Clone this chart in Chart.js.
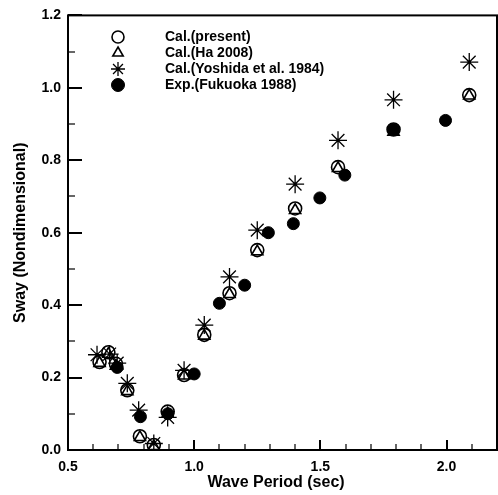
<!DOCTYPE html>
<html>
<head>
<meta charset="utf-8">
<script src="https://cdn.jsdelivr.net/npm/chart.js@4/dist/chart.umd.min.js"></script>
<style>
  html, body { margin: 0; padding: 0; background: #fff; }
  #wrap { width: 498px; height: 495px; }
</style>
</head>
<body>
<div id="wrap"><canvas id="swayChart" width="498" height="495"></canvas></div>
<script>
// wave period (sec) and nondimensional sway amplitude
const periodCal = [0.625, 0.66, 0.69, 0.735, 0.785, 0.84, 0.895, 0.96, 1.04, 1.14, 1.25, 1.40, 1.57, 1.79, 2.09];
const swayPresent = [0.243, 0.270, 0.238, 0.165, 0.038, 0.014, 0.106, 0.207, 0.318, 0.433, 0.552, 0.667, 0.781, 0.885, 0.980];
const swayHa = [0.240, 0.265, 0.232, 0.162, 0.035, 0.010, 0.100, 0.205, 0.315, 0.430, 0.548, 0.662, 0.778, 0.878, 0.978];

const periodYoshida = [0.615, 0.665, 0.695, 0.735, 0.78, 0.84, 0.895, 0.96, 1.04, 1.14, 1.25, 1.40, 1.57, 1.79, 2.09];
const swayYoshida = [0.263, 0.265, 0.240, 0.184, 0.110, 0.018, 0.090, 0.220, 0.345, 0.478, 0.607, 0.734, 0.855, 0.967, 1.071];

const periodExp = [0.695, 0.787, 0.896, 1.0, 1.10, 1.20, 1.294, 1.393, 1.498, 1.597, 1.79, 1.996];
const swayExp = [0.228, 0.092, 0.100, 0.210, 0.405, 0.455, 0.600, 0.625, 0.696, 0.759, 0.885, 0.910];

const xTicks = [0.5, 1.0, 1.5, 2.0];
const yTicks = [0.0, 0.2, 0.4, 0.6, 0.8, 1.0, 1.2];
const xTitle = 'Wave Period (sec)';

const toPoints = (xs, ys) => xs.map((x, i) => ({ x: x, y: ys[i] }));

const FONT = 'Liberation Sans, Arial, sans-serif';

// inward tick marks, frame, x title and the legend inside the plot
const framePlugin = {
  id: 'frame',
  afterDatasetsDraw(chart) {
    const { ctx, chartArea: a, scales } = chart;
    const xs = scales.x, ys = scales.y;
    ctx.save();
    ctx.strokeStyle = '#000';
    ctx.lineWidth = 2;
    ctx.strokeRect(a.left, a.top, a.right - a.left, a.bottom - a.top);

    for (let v = 0.5; v <= 2.2001; v += 0.1) {
      const px = Math.round(xs.getPixelForValue(v));
      const major = Math.abs(v * 2 - Math.round(v * 2)) < 1e-6;
      ctx.lineWidth = major ? 2 : 1.2;
      ctx.beginPath();
      ctx.moveTo(px, a.bottom);
      ctx.lineTo(px, a.bottom - (major ? 10 : 6));
      ctx.stroke();
    }
    for (let v = 0; v <= 1.2001; v += 0.1) {
      const py = Math.round(ys.getPixelForValue(v));
      const major = Math.abs(v * 5 - Math.round(v * 5)) < 1e-6;
      ctx.lineWidth = major ? 2 : 1.2;
      ctx.beginPath();
      ctx.moveTo(a.left, py);
      ctx.lineTo(a.left + (major ? 14 : 7), py);
      ctx.stroke();
    }

    // x axis title, sits a little left of the plot centre
    ctx.fillStyle = '#000';
    ctx.font = 'bold 16px ' + FONT;
    ctx.textAlign = 'center';
    ctx.textBaseline = 'middle';
    ctx.fillText(xTitle, 276, 483);

    // legend
    ctx.font = 'bold 14px ' + FONT;
    ctx.textAlign = 'left';
    chart.data.datasets.forEach((ds, i) => {
      const y = 37 + i * 16;
      ctx.fillStyle = ds.legendFill;
      ctx.strokeStyle = '#000';
      ctx.lineWidth = ds.borderWidth;
      Chart.helpers.drawPoint(ctx, {
        pointStyle: ds.pointStyle,
        radius: ds.legendRadius,
        borderWidth: ds.borderWidth,
        rotation: 0
      }, 118, y);
      ctx.fillStyle = '#000';
      ctx.fillText(ds.label, 165, y);
    });
    ctx.restore();
  }
};

new Chart(document.getElementById('swayChart'), {
  type: 'scatter',
  data: {
    datasets: [
      {
        label: 'Cal.(present)',
        data: toPoints(periodCal, swayPresent),
        pointStyle: 'circle',
        pointRadius: 6.5,
        borderWidth: 1.6,
        borderColor: '#000',
        backgroundColor: 'rgba(0,0,0,0)',
        legendRadius: 6,
        legendFill: 'rgba(0,0,0,0)',
        order: 2
      },
      {
        label: 'Cal.(Ha 2008)',
        data: toPoints(periodCal, swayHa),
        pointStyle: 'triangle',
        pointRadius: 6.5,
        borderWidth: 1.6,
        borderColor: '#000',
        backgroundColor: 'rgba(0,0,0,0)',
        legendRadius: 6,
        legendFill: 'rgba(0,0,0,0)',
        order: 3
      },
      {
        label: 'Cal.(Yoshida et al. 1984)',
        data: toPoints(periodYoshida, swayYoshida),
        pointStyle: 'star',
        pointRadius: 9,
        borderWidth: 1.3,
        borderColor: '#000',
        backgroundColor: '#000',
        legendRadius: 7,
        legendFill: '#000',
        order: 1
      },
      {
        label: 'Exp.(Fukuoka 1988)',
        data: toPoints(periodExp, swayExp),
        pointStyle: 'circle',
        pointRadius: 6,
        borderWidth: 1,
        borderColor: '#000',
        backgroundColor: '#000',
        legendRadius: 6.5,
        legendFill: '#000',
        order: 0
      }
    ]
  },
  options: {
    responsive: false,
    animation: false,
    layout: { autoPadding: false, padding: { top: 15, right: 1, left: 0, bottom: 0 } },
    plugins: {
      legend: { display: false },
      tooltip: { enabled: false }
    },
    scales: {
      x: {
        type: 'linear',
        min: 0.5,
        max: 2.2,
        afterBuildTicks(scale) { scale.ticks = xTicks.map(v => ({ value: v })); },
        afterFit(scale) { scale.height = 45; },
        grid: { display: false, drawTicks: false },
        border: { display: false },
        ticks: {
          padding: 9,
          color: '#000',
          font: { family: FONT, size: 14, weight: 'bold' },
          callback: v => v.toFixed(1)
        },
        title: { display: false }
      },
      y: {
        type: 'linear',
        min: 0,
        max: 1.2,
        afterBuildTicks(scale) { scale.ticks = yTicks.map(v => ({ value: v })); },
        afterFit(scale) { scale.width = 68; },
        grid: { display: false, drawTicks: false },
        border: { display: false },
        ticks: {
          padding: 7,
          color: '#000',
          font: { family: FONT, size: 14, weight: 'bold' },
          callback: v => v.toFixed(1)
        },
        title: {
          display: true,
          text: 'Sway (Nondimensional)',
          color: '#000',
          font: { family: FONT, size: 16, weight: 'bold' },
          padding: { top: 11, bottom: 0 }
        }
      }
    }
  },
  plugins: [framePlugin]
});
</script>
</body>
</html>
